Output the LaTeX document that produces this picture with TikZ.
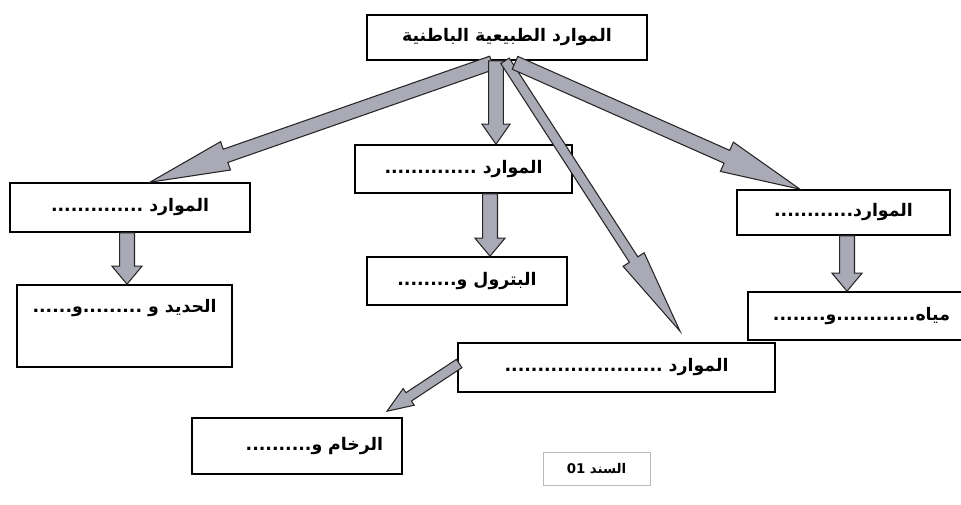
\documentclass[tikz,border=0pt]{standalone}
\usepackage{fontspec}
\newfontfamily\arabicfont[Script=Arabic]{DejaVu Sans}
\TeXXeTstate=1
\usetikzlibrary{calc}
\definecolor{arrowgray}{RGB}{170,170,182}
\tikzset{
  box/.style={draw, fill=white, line width=1.2pt, inner sep=0pt, font={\arabicfont\bfseries\fontsize{13}{15}\selectfont}},
  fat/.style={draw=black!85, line width=0.8pt, fill=arrowgray, line join=miter}
}
% #1 shaft half width, #2 head half width, #3 head length, #4 from, #5 to
\newcommand{\fatarrow}[5]{%
  \draw[fat] ($(#4)!#1!90:(#5)$) -- ($($(#5)!#3!(#4)$)!#1!90:(#5)$) -- ($($(#5)!#3!(#4)$)!#2!90:(#5)$) -- (#5)
    -- ($($(#5)!#3!(#4)$)!#2!-90:(#5)$) -- ($($(#5)!#3!(#4)$)!#1!-90:(#5)$) -- ($(#4)!#1!-90:(#5)$) -- cycle;}
\begin{document}
\begin{tikzpicture}[x=0.75pt,y=-0.75pt]
\useasboundingbox (0,0) rectangle (961,504);
\node[box, minimum width=210pt, minimum height=33.75pt] (top) at (507,37.5) {\beginR الموارد الطبيعية الباطنية\endR};
\node[box, minimum width=180pt, minimum height=36.75pt] (resL) at (130,207.5) {\beginR الموارد ..............\endR};
\node[box, minimum width=161.25pt, text height=20.5pt, text depth=41pt] (leftLow) at (124.5,326) {\beginR الحديد و .........و......\endR};
\node[box, minimum width=162.75pt, minimum height=36pt] (resM) at (463.5,169) {\beginR الموارد ..............\endR};
\node[box, minimum width=150pt, minimum height=36pt] (midLow) at (467,281) {\beginR البترول و.........\endR};
\node[box, minimum width=159.75pt, minimum height=33.75pt] (resR) at (843.5,212.5) {\beginR الموارد............\endR};
\node[box, minimum width=170.25pt, minimum height=36pt] (rightLow) at (861.5,316) {\beginR مياه............و........\endR};
\node[box, minimum width=237.75pt, minimum height=36.75pt] (lowMid) at (616.5,367.5) {\beginR الموارد ........................\endR};
\node[box, minimum width=157.5pt, minimum height=42pt, text width=129pt, align=right] (rock) at (297,446) {\beginR الرخام و..........\endR};
\node[box, draw=gray!55, line width=0.6pt, minimum width=80.25pt, minimum height=24.75pt, font={\arabicfont\bfseries\fontsize{10}{12}\selectfont}] (src) at (596.5,468.5) {\beginR السند \beginL01\endL\endR};
\coordinate (sL) at ($(top.south)+(-15,2)$);
\coordinate (sM) at ($(top.south)+(-11,0)$);
\coordinate (sD) at ($(top.south)+(-2,0)$);
\coordinate (sR) at ($(top.south)+(8,2)$);
\coordinate (eL) at ($(resL.north)+(20,0)$);
\coordinate (eM) at ($(resM.north)+(32.5,0)$);
\coordinate (eD) at ($(lowMid.north)+(63.5,-11)$);
\coordinate (eR) at ($(resR.north)+(-43.5,0)$);
\coordinate (dL) at ($(resL.south)+(-3,0)$);
\coordinate (dM) at ($(resM.south)+(26.5,0)$);
\coordinate (dR) at ($(resR.south)+(3.5,0)$);
\coordinate (bS) at ($(lowMid.west)+(2,-4)$);
\coordinate (bE) at ($(rock.north)+(90,-6)$);
\fatarrow{5.25pt}{11.25pt}{60pt}{sL}{eL}
\fatarrow{5.5pt}{10.5pt}{15pt}{sM}{eM}
\fatarrow{3.75pt}{9.4pt}{64pt}{sD}{eD}
\fatarrow{5.25pt}{12pt}{60pt}{sR}{eR}
\fatarrow{5.6pt}{11.25pt}{13.5pt}{dL}{dL |- leftLow.north}
\fatarrow{5.6pt}{11.25pt}{13.5pt}{dM}{dM |- midLow.north}
\fatarrow{5.6pt}{11.25pt}{13.5pt}{dR}{dR |- rightLow.north}
\fatarrow{3.75pt}{7.5pt}{19.5pt}{bS}{bE}
\end{tikzpicture}
\end{document}
